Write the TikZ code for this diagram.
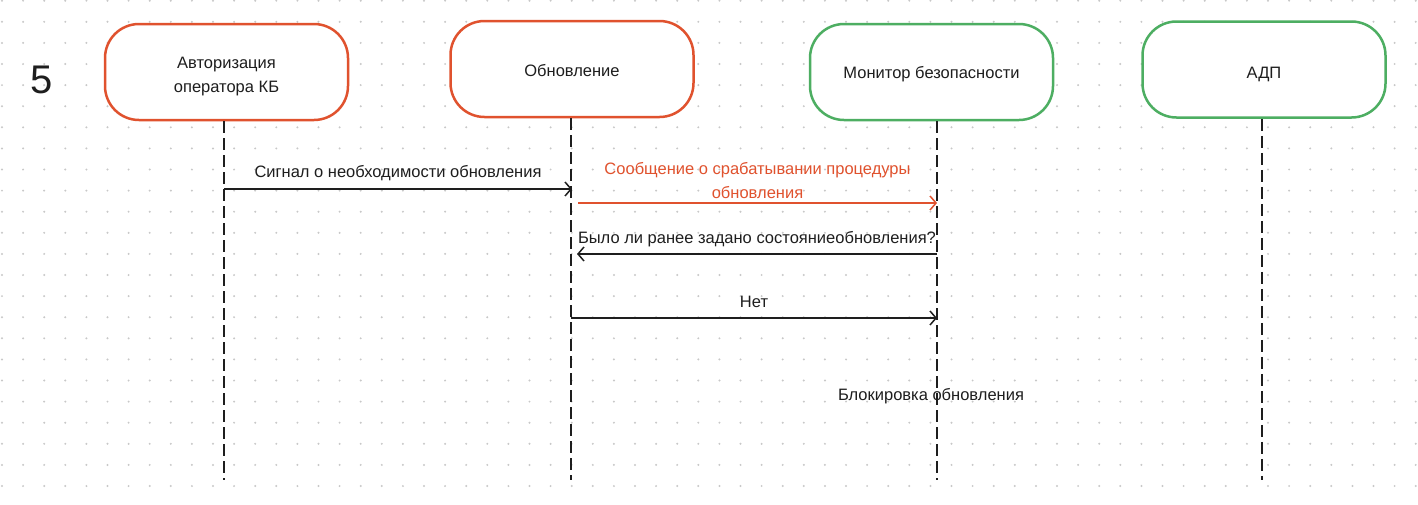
\documentclass[tikz,border=0pt]{standalone}
\usepackage{fontspec}
\setmainfont{Liberation Sans}
\usetikzlibrary{arrows.meta}
\definecolor{redc}{HTML}{E0522E}
\definecolor{greenc}{HTML}{4DAE62}
\definecolor{txt}{HTML}{1E1E1E}
\definecolor{dotc}{HTML}{C8C8C8}
\newcommand{\lowr}[2]{\raisebox{-#1}[\height][\depth]{#2}}
\tikzset{
  lifebox/.style={draw, line width=2.5pt, rounded corners=34pt, minimum width=243pt, minimum height=96pt, align=center, font=\fontsize{16.5}{24}\selectfont, text=txt, fill=white},
  redbox/.style={lifebox, draw=redc},
  greenbox/.style={lifebox, draw=greenc},
  lifeline/.style={draw=txt, line width=2pt, dash pattern=on 12pt off 5pt},
  msg/.style={draw=txt, line width=1.5pt, -{Straight Barb[length=6pt,width=14pt,line width=1.5pt]}},
  lbl/.style={font=\fontsize{16.5}{24}\selectfont, text=txt, align=center}
}
\begin{document}
\begin{tikzpicture}[x=1pt,y=-1pt]
\useasboundingbox (0,0) rectangle (1418,504);
\fill[white] (0,0) rectangle (1418,504);
\foreach \i in {0,...,67} {
  \foreach \j in {0,...,23} {
    \fill[dotc] ({2+21.1*\i},{0.7+21.1*\j}) circle (1.1pt);
  }
}
\node[lbl, font=\fontsize{40}{40}\selectfont] (num) at (42,80) {5};
\node[redbox] (b1) at (226.5,72) {\lowr{4.5pt}{Авторизация}\\\lowr{4.5pt}{оператора КБ}};
\node[redbox] (b2) at (572,69) {\lowr{2pt}{Обновление}};
\node[greenbox] (b3) at (931.5,72) {\lowr{2pt}{Монитор безопасности}};
\node[greenbox] (b4) at (1264,69.5) {\lowr{4.5pt}{АДП}};
\coordinate (e1) at (224,480);
\coordinate (e2) at (571,480);
\coordinate (e3) at (937,480);
\coordinate (e4) at (1262,480);
\draw[lifeline] (b1.south -| e1) -- (e1);
\draw[lifeline] (b2.south -| e2) -- (e2);
\draw[lifeline] (b3.south -| e3) -- (e3);
\draw[lifeline] (b4.south -| e4) -- (e4);
% messages
\coordinate (m1s) at (224,189); \coordinate (m1e) at (572,189);
\draw[msg] (m1s) -- node[lbl, above=4pt] {Сигнал о необходимости обновления} (m1e);
\coordinate (m2s) at (578,203); \coordinate (m2e) at (937,203);
\draw[msg, draw=redc] (m2s) -- node[lbl, text=redc, above=0pt] {Сообщение о срабатывании процедуры\\обновления} (m2e);
\coordinate (m3s) at (937,254); \coordinate (m3e) at (577,254);
\draw[msg] (m3s) -- node[lbl, above=3pt] {Было ли ранее задано состояниеобновления?} (m3e);
\coordinate (m4s) at (571,318); \coordinate (m4e) at (937,318);
\draw[msg] (m4s) -- node[lbl, above=6pt] {Нет} (m4e);
\node[lbl] (blk) at (931,396) {Блокировка обновления};
\end{tikzpicture}
\end{document}
